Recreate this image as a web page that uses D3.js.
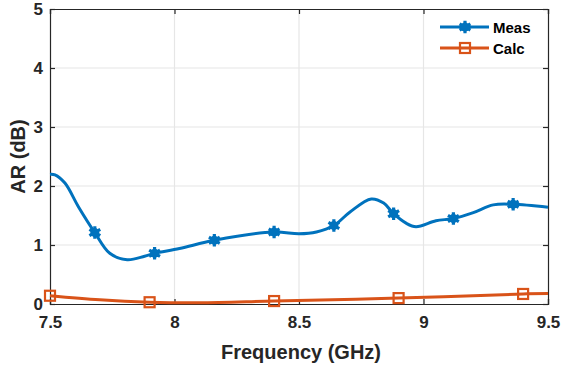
<!DOCTYPE html>
<html>
<head>
<meta charset="utf-8">
<script src="https://cdn.jsdelivr.net/npm/d3@7"></script>
<style>
  body { margin: 0; background: #fff; }
  svg { display: block; font-family: "Liberation Sans", Arial, sans-serif; }
</style>
</head>
<body>
<div id="chart"></div>
<script>
// Meas curve
const measFreq = [7.50, 7.52, 7.56, 7.614, 7.68, 7.74, 7.81, 7.88, 7.92, 8.02, 8.16, 8.40, 8.50, 8.57, 8.64, 8.705, 8.79, 8.84, 8.88, 8.93, 8.97, 9.05, 9.12, 9.20, 9.28, 9.36, 9.50];
const measAR   = [2.20, 2.19, 2.05, 1.65, 1.21, 0.86, 0.75, 0.81, 0.86, 0.94, 1.08, 1.22, 1.19, 1.22, 1.33, 1.56, 1.78, 1.71, 1.53, 1.37, 1.31, 1.41, 1.45, 1.55, 1.68, 1.69, 1.64];
const measMarkers = [7.68, 7.92, 8.16, 8.40, 8.64, 8.88, 9.12, 9.36];

// Calc curve
const calcFreq = [7.50, 7.70, 7.90, 8.10, 8.40, 8.90, 9.40, 9.50];
const calcAR   = [0.14, 0.07, 0.03, 0.02, 0.05, 0.10, 0.17, 0.18];
const calcMarkers = [7.50, 7.90, 8.40, 8.90, 9.40];

const xTicks = [7.5, 8, 8.5, 9, 9.5];
const yTicks = [0, 1, 2, 3, 4, 5];

const width = 563, height = 372;
const margin = { top: 9, right: 15, bottom: 68, left: 50 };
const innerW = width - margin.left - margin.right;
const innerH = height - margin.top - margin.bottom;

const blue = "#0072BD", orange = "#D95319", ink = "#262626";

const svg = d3.select("#chart").append("svg")
  .attr("width", width).attr("height", height);

const g = svg.append("g")
  .attr("transform", `translate(${margin.left},${margin.top})`);

const x = d3.scaleLinear().domain([7.5, 9.5]).range([0, innerW]);
const y = d3.scaleLinear().domain([0, 5]).range([innerH, 0]);

// grid
g.append("g").selectAll("line").data(xTicks.slice(1, -1)).join("line")
  .attr("x1", d => x(d)).attr("x2", d => x(d))
  .attr("y1", 0).attr("y2", innerH)
  .attr("stroke", "#e6e6e6").attr("stroke-width", 1.2);
g.append("g").selectAll("line").data(yTicks.slice(1, -1)).join("line")
  .attr("x1", 0).attr("x2", innerW)
  .attr("y1", d => y(d)).attr("y2", d => y(d))
  .attr("stroke", "#e6e6e6").attr("stroke-width", 1.2);

// axes, ticks inward
const fmt = d => d3.format("")(d);
const axB = g.append("g").attr("transform", `translate(0,${innerH})`)
  .call(d3.axisBottom(x).tickValues(xTicks).tickSize(-5).tickPadding(12).tickFormat(fmt));
const axL = g.append("g")
  .call(d3.axisLeft(y).tickValues(yTicks).tickSize(-5).tickPadding(7).tickFormat(fmt));
const axT = g.append("g")
  .call(d3.axisTop(x).tickValues(xTicks).tickSize(-5).tickFormat(""));
const axR = g.append("g").attr("transform", `translate(${innerW},0)`)
  .call(d3.axisRight(y).tickValues(yTicks).tickSize(-5).tickFormat(""));

[axB, axL, axT, axR].forEach(a => {
  a.select(".domain").attr("stroke", ink).attr("stroke-width", 1.2);
  a.selectAll(".tick line").attr("stroke", ink).attr("stroke-width", 1.2);
  a.selectAll(".tick text")
    .attr("fill", ink).attr("font-size", 17).attr("font-weight", "bold")
    .attr("font-family", "'Liberation Sans', Arial, sans-serif");
});
axB.selectAll(".tick text").attr("dy", "0.71em");

// lines
const line = d3.line().x(d => x(d[0])).y(d => y(d[1])).curve(d3.curveCatmullRom.alpha(0.5));
const measPts = measFreq.map((f, i) => [f, measAR[i]]);
const calcPts = calcFreq.map((f, i) => [f, calcAR[i]]);

g.append("path").datum(calcPts).attr("d", line)
  .attr("fill", "none").attr("stroke", orange).attr("stroke-width", 3);
g.append("path").datum(measPts).attr("d", line)
  .attr("fill", "none").attr("stroke", blue).attr("stroke-width", 3);

const star = d3.symbol().type(d3.symbolAsterisk).size(110);
function measMark(sel, cx, cy) {
  sel.append("path").attr("d", star)
    .attr("transform", `translate(${cx},${cy})`)
    .attr("stroke", blue).attr("stroke-width", 3.2).attr("fill", "none");
  sel.append("circle").attr("cx", cx).attr("cy", cy).attr("r", 4.5).attr("fill", blue);
}
function calcMark(sel, cx, cy) {
  sel.append("rect").attr("x", cx - 5).attr("y", cy - 5)
    .attr("width", 10).attr("height", 10)
    .attr("fill", "none").attr("stroke", orange).attr("stroke-width", 2.2);
}

const measAt = f => measAR[measFreq.indexOf(f)];
const calcAt = f => calcAR[calcFreq.indexOf(f)];
measMarkers.forEach(f => measMark(g, x(f), y(measAt(f))));
calcMarkers.forEach(f => calcMark(g, x(f), y(calcAt(f))));

// axis labels
svg.append("text")
  .attr("x", margin.left + innerW / 2 + 2).attr("y", 359)
  .attr("text-anchor", "middle").attr("fill", ink)
  .attr("font-size", 20).attr("font-weight", "bold")
  .text("Frequency (GHz)");
svg.append("text")
  .attr("transform", `translate(25,${margin.top + innerH / 2})rotate(-90)`)
  .attr("text-anchor", "middle").attr("fill", ink)
  .attr("font-size", 20).attr("font-weight", "bold")
  .text("AR (dB)");

// legend
const leg = svg.append("g");
const legItems = [
  { name: "Meas", color: blue, mark: measMark, y: 27 },
  { name: "Calc", color: orange, mark: calcMark, y: 48 }
];
legItems.forEach(it => {
  leg.append("line").attr("x1", 440).attr("x2", 489)
    .attr("y1", it.y).attr("y2", it.y)
    .attr("stroke", it.color).attr("stroke-width", 3);
  it.mark(leg, 465, it.y);
  leg.append("text").attr("x", 493).attr("y", it.y + 5.5)
    .attr("fill", "#000").attr("font-size", 15).attr("font-weight", "bold")
    .text(it.name);
});
</script>
</body>
</html>
